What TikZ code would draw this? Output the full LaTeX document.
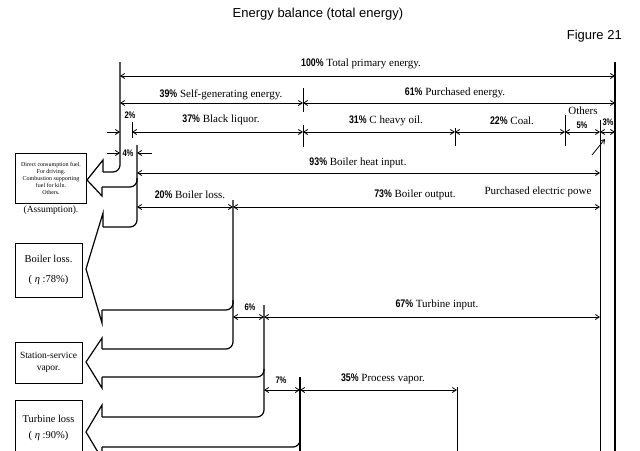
\documentclass[tikz,border=0pt]{standalone}
\usepackage{fontspec}
\setmainfont{Liberation Serif}
\newfontfamily\titlefont{Liberation Sans}
\newfontfamily\pctfont[FakeStretch=0.8]{Liberation Sans}
\usetikzlibrary{arrows.meta}
\newcommand\pc[1]{{\pctfont\bfseries #1}}
\tikzset{
  dim/.style={line width=0.8pt,{Straight Barb[length=4pt,width=5pt]}-{Straight Barb[length=4pt,width=5pt]}},
  rdim/.style={line width=0.8pt,-{Straight Barb[length=4pt,width=5pt]}},
  tick/.style={line width=0.8pt},
  flowc/.style={line width=1.2pt,rounded corners=7pt},
  flowp/.style={line width=1.2pt,line join=miter},
  lab/.style={font=\fontsize{11}{13}\selectfont,inner sep=0pt},
  slab/.style={font=\fontsize{9.5}{11}\selectfont,inner sep=0pt},
  boxed/.style={draw,line width=0.8pt,minimum width=67pt,inner sep=1pt,align=center},
}
\begin{document}
\begin{tikzpicture}[x=1pt,y=-1pt]
\useasboundingbox (0,0) rectangle (640,450);
\clip (0,0) rectangle (640,450);
% titles
\node[font=\titlefont\fontsize{13}{15}\selectfont,inner sep=0pt] (title) at (318,14) {Energy balance (total energy)};
\node[font=\titlefont\fontsize{13}{15}\selectfont,inner sep=0pt,anchor=east] (fig) at (622,36) {Figure 21};
% key coordinates
\coordinate (L0) at (120,62);
\coordinate (R0) at (615,62);
\coordinate (R1) at (615,460);
\coordinate (P0) at (600,120);
\coordinate (P1) at (600,460);
% outer verticals
\draw[tick,line width=1.2pt] (R0) -- (R1);
\draw[tick] (P0) -- (P1);
% row 1: 100%
\draw[dim] (120,76) -- (615,76);
\node[lab] (t100) at (361,64) {\pc{100\%} Total primary energy.};
% row 2
\draw[tick] (303,88) -- (303,112);
\draw[dim] (120,103) -- (303,103);
\draw[dim] (303,103) -- (615,103);
\node[lab] (t39) at (221,95) {\pc{39\%} Self-generating energy.};
\node[lab] (t61) at (455,93) {\pc{61\%} Purchased energy.};
% row 3
\draw[tick] (132,122) -- (132,138);
\draw[tick] (303,125) -- (303,147);
\draw[tick] (455,128) -- (455,146);
\draw[tick] (565,115) -- (565,146);
\draw[rdim] (107,132) -- (120,132);
\draw[dim] (132,132) -- (303,132);
\draw[dim] (303,132) -- (455,132);
\draw[dim] (455,132) -- (565,132);
\draw[dim] (565,132) -- (600,132);
\draw[dim] (600,132) -- (615,132);
\node[slab] (t2) at (130,115) {\pc{2\%}};
\node[lab] (t37) at (221,120) {\pc{37\%} Black liquor.};
\node[lab] (t31) at (386,121) {\pc{31\%} C heavy oil.};
\node[lab] (t22) at (512,121) {\pc{22\%} Coal.};
\node[lab] (toth) at (583,111) {Others};
\node[slab] (t5) at (582,125) {\pc{5\%}};
\node[slab] (t3) at (608,122) {\pc{3\%}};
\draw[rdim] (592,155) -- (605,139);
% row 4: 4%
\draw[rdim] (107,153) -- (120,153);
\draw[rdim] (152,153) -- (137,153);
\node[slab] (t4) at (128,153) {\pc{4\%}};
% row 5: 93%
\draw[dim] (137,173) -- (600,173);
\node[lab] (t93) at (358,163) {\pc{93\%} Boiler heat input.};
% row 6: 20% / 73%
\draw[dim] (137,207) -- (233,207);
\draw[dim] (233,207) -- (600,207);
\node[lab] (t20) at (190,195) {\pc{20\%} Boiler loss.};
\node[lab] (t73) at (415,195) {\pc{73\%} Boiler output.};
\node[lab] (tpe) at (538,192) {Purchased electric powe};
% row 7: 6% / 67%
\draw[dim] (233,317) -- (264,317);
\draw[dim] (264,317) -- (600,317);
\node[slab] (t6) at (250,307) {\pc{6\%}};
\node[lab] (t67) at (437,305) {\pc{67\%} Turbine input.};
% row 8: 7% / 35%
\draw[dim] (264,390) -- (300,390);
\draw[dim] (300,390) -- (457,390);
\node[slab] (t7) at (281,380) {\pc{7\%}};
\node[lab] (t35) at (383,379) {\pc{35\%} Process vapor.};
\draw[tick] (457,387) -- (457,460);
% flows: curved edges
\draw[flowc] (L0) |- (103,172);
\draw[flowc] (102,187) -| (137,178);
\draw[flowc] (137,145) |- (103,227);
\draw[flowc] (102,310) -| (233,300);
\draw[flowc] (233,200) |- (102,349);
\draw[flowc] (102,377) -| (264,369);
\draw[flowc] (264,305) |- (102,417);
\draw[flowc] (102,447) -| (300,439);
\draw[flowp] (300,377) -- (300,460);
% flows: arrow heads
\draw[flowp] (103,172) -- (103,160) -- (87,180) -- (102,196) -- (102,187);
\draw[flowp] (103,227) -- (103,213) -- (86,269) -- (102,323) -- (102,310);
\draw[flowp] (102,349) -- (102,338) -- (86,362) -- (102,388) -- (102,377);
\draw[flowp] (102,417) -- (102,405) -- (86,432) -- (102,459) -- (102,447);
% boxes
\node[boxed,minimum width=71pt,minimum height=50pt,font=\fontsize{6}{7}\selectfont] (b1) at (51,178)
  {Direct consumption fuel.\\For driving.\\Combustion supporting\\fuel for kiln.\\Others.};
\node[lab,font=\fontsize{9.5}{11}\selectfont] (ass) at (51,210) {(Assumption).};
\node[boxed,minimum height=54pt,font=\fontsize{10.5}{20}\selectfont] (b2) at (48.5,270)
  {Boiler loss.\\( \textit{η} :78\%)};
\node[boxed,minimum height=41pt,font=\fontsize{9.5}{12}\selectfont] (b3) at (48.5,362.5)
  {Station-service\\vapor.};
\node[boxed,minimum height=56pt,font=\fontsize{10.5}{16}\selectfont] (b4) at (48.5,428)
  {Turbine loss\\( \textit{η} :90\%)};
\end{tikzpicture}
\end{document}
